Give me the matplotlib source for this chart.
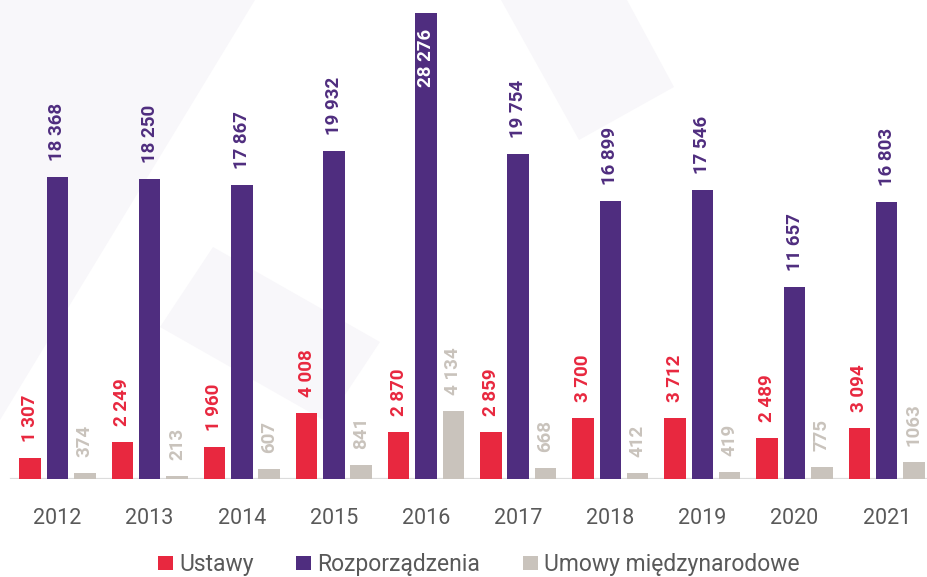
import matplotlib.pyplot as plt
import numpy as np
from matplotlib.patches import Patch, Polygon

years = ['2012', '2013', '2014', '2015', '2016', '2017', '2018', '2019', '2020', '2021']
ustawy = [1307, 2249, 1960, 4008, 2870, 2859, 3700, 3712, 2489, 3094]
rozporzadzenia = [18368, 18250, 17867, 19932, 28276, 19754, 16899, 17546, 11657, 16803]
umowy = [374, 213, 607, 841, 4134, 668, 412, 419, 775, 1063]
series_names = ['Ustawy', 'Rozporządzenia', 'Umowy międzynarodowe']

red = '#e8283f'
purple = '#4f2d7f'
grey = '#c9c3bc'

plt.rcParams['font.family'] = ['Roboto', 'DejaVu Sans']

W, H = 928, 577
fig = plt.figure(figsize=(W / 100, H / 100), dpi=100)

# faint watermark shapes in the background (pixel coords)
shapes = [
    [(0, 0), (255, 0), (0, 420)],
    [(213, 247), (380, 342), (327, 422), (160, 327)],
    [(501, 0), (627, 0), (674, 87), (579, 140)],
]
for pts in shapes:
    fpts = [(x / W, 1 - y / H) for x, y in pts]
    fig.patches.append(Polygon(fpts, closed=True, transform=fig.transFigure,
                               facecolor='#f8f7fa', edgecolor='none', zorder=0))

base_px = 479.3
ax = fig.add_axes([0, (H - base_px) / H, 1, base_px / H])
ax.set_zorder(1)
ax.patch.set_alpha(0)

x = np.arange(len(years))
step = 92.13
ax.set_xlim(-57.5 / step, (W - 57.5) / step)
ax.set_ylim(0, base_px / (466 / 28276))

bw = 21.5 / step
off = 27.3 / step


def fmt(v):
    return f"{v:,}".replace(",", " ")


ustawy_labels = [fmt(v) for v in ustawy]
rozp_labels = [fmt(v) for v in rozporzadzenia]
umowy_labels = [fmt(v) for v in umowy]
umowy_labels[-1] = '1063'  # printed without the space in the original

groups = [
    (x - off, ustawy, ustawy_labels, red),
    (x, rozporzadzenia, rozp_labels, purple),
    (x + off, umowy, umowy_labels, grey),
]
top = max(rozporzadzenia)
for xs, vals, labs, col in groups:
    ax.bar(xs, vals, width=bw, color=col, zorder=3)
    for xi, v, lab in zip(xs, vals, labs):
        if v == top:
            ax.annotate(lab, (xi, v), xytext=(0, -11.5), textcoords='offset points',
                        rotation=90, ha='center', va='top', color='white',
                        fontsize=13.5, fontweight='bold', zorder=4)
        else:
            ax.annotate(lab, (xi, v), xytext=(0, 11.5), textcoords='offset points',
                        rotation=90, ha='center', va='bottom', color=col,
                        fontsize=13.5, fontweight='bold', zorder=4)

ax.axhline(0, xmin=11 / W, xmax=1, color='#dcdcdc', lw=1.6, zorder=2)

for s in ax.spines.values():
    s.set_visible(False)
ax.set_yticks([])
ax.set_xticks(x)
ax.set_xticklabels(years, fontsize=15.5, color='#595959')
ax.tick_params(axis='x', length=0, pad=20.5)

handles = [Patch(facecolor=c, edgecolor='none') for c in (red, purple, grey)]
fig.legend(handles, series_names, loc='center', bbox_to_anchor=(478.7 / W, 12.5 / H),
           ncol=3, frameon=False, fontsize=16.5, handlelength=0.66, handleheight=0.62,
           handletextpad=0.26, columnspacing=1.85, borderpad=0, labelcolor='#595959')

fig.savefig('out.png', dpi=100)
